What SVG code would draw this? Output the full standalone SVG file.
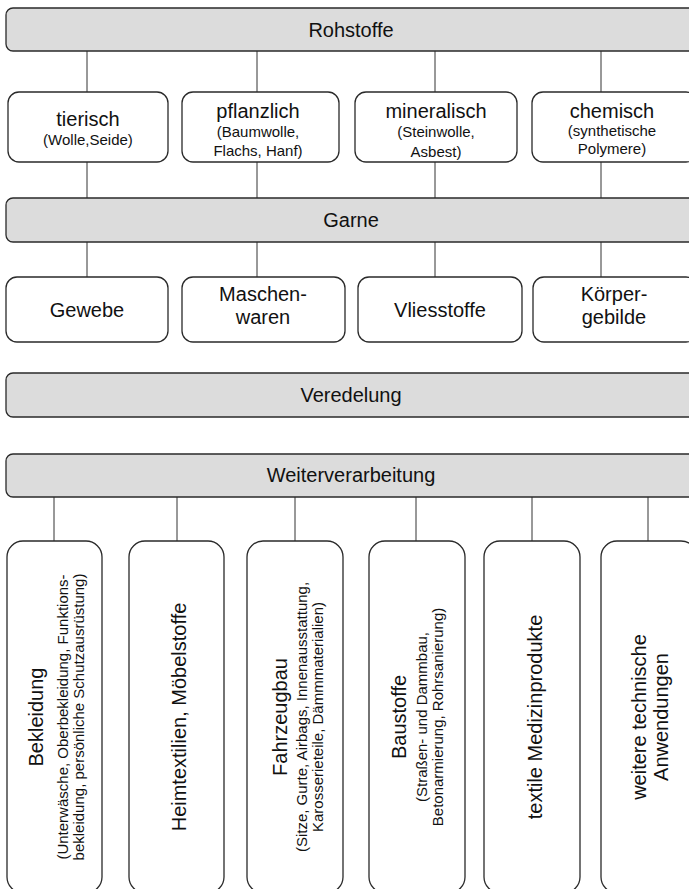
<svg xmlns="http://www.w3.org/2000/svg" width="689" height="889" viewBox="0 0 689 889">
<style>
.bar{fill:#dcdcdc;stroke:#2a2a2a;stroke-width:1.3}
.box{fill:#ffffff;stroke:#2a2a2a;stroke-width:1.3}
.t{font-family:"Liberation Sans",Arial,sans-serif;font-size:20px;fill:#111;text-anchor:middle}
.s{font-family:"Liberation Sans",Arial,sans-serif;font-size:15px;fill:#111;text-anchor:middle}
.c line{stroke:#333;stroke-width:1}
</style>
<rect width="689" height="889" fill="#ffffff"/>
<g class="c" id="connectors">
<line x1="87" y1="51" x2="87" y2="92"/><line x1="257" y1="51" x2="257" y2="92"/><line x1="435" y1="51" x2="435" y2="92"/><line x1="601" y1="51" x2="601" y2="92"/>
<line x1="87" y1="162" x2="87" y2="198"/><line x1="257" y1="162" x2="257" y2="198"/><line x1="435" y1="162" x2="435" y2="198"/><line x1="601" y1="162" x2="601" y2="198"/>
<line x1="87" y1="242" x2="87" y2="277"/><line x1="257" y1="242" x2="257" y2="277"/><line x1="435" y1="242" x2="435" y2="277"/><line x1="601" y1="242" x2="601" y2="277"/>
<line x1="54" y1="497" x2="54" y2="541"/><line x1="177" y1="497" x2="177" y2="541"/><line x1="295" y1="497" x2="295" y2="541"/><line x1="416" y1="497" x2="416" y2="541"/><line x1="532" y1="497" x2="532" y2="541"/><line x1="648" y1="497" x2="648" y2="541"/>
</g>
<g id="rohstoffe"><rect class="bar" x="6" y="8" width="691" height="43" rx="7"/><text class="t" x="351" y="37">Rohstoffe</text></g>
<g id="tierisch"><rect class="box" x="8" y="92" width="160" height="70" rx="11"/><text class="t" x="88" y="126">tierisch</text><text class="s" x="88" y="145">(Wolle,Seide)</text></g>
<g id="pflanzlich"><rect class="box" x="182" y="92" width="157" height="70" rx="11"/><text class="t" x="258" y="118">pflanzlich</text><text class="s" x="258" y="137">(Baumwolle,</text><text class="s" x="258" y="156">Flachs, Hanf)</text></g>
<g id="mineralisch"><rect class="box" x="355" y="92" width="162" height="70" rx="11"/><text class="t" x="436" y="118">mineralisch</text><text class="s" x="436" y="137">(Steinwolle,</text><text class="s" x="436" y="157">Asbest)</text></g>
<g id="chemisch"><rect class="box" x="532" y="92" width="165" height="70" rx="11"/><text class="t" x="612" y="118">chemisch</text><text class="s" x="612" y="136">(synthetische</text><text class="s" x="612" y="154">Polymere)</text></g>
<g id="garne"><rect class="bar" x="6" y="198" width="691" height="44" rx="7"/><text class="t" x="351" y="227">Garne</text></g>
<g id="gewebe"><rect class="box" x="6" y="277" width="162" height="65" rx="11"/><text class="t" x="87" y="317">Gewebe</text></g>
<g id="maschenwaren"><rect class="box" x="182" y="277" width="163" height="65" rx="11"/><text class="t" x="263" y="301">Maschen-</text><text class="t" x="263" y="324">waren</text></g>
<g id="vliesstoffe"><rect class="box" x="358" y="277" width="164" height="65" rx="11"/><text class="t" x="440" y="317">Vliesstoffe</text></g>
<g id="koerpergebilde"><rect class="box" x="533" y="277" width="164" height="65" rx="11"/><text class="t" x="614" y="301">Körper-</text><text class="t" x="614" y="324">gebilde</text></g>
<g id="veredelung"><rect class="bar" x="6" y="373" width="691" height="44" rx="7"/><text class="t" x="351" y="402">Veredelung</text></g>
<g id="weiterverarbeitung"><rect class="bar" x="6" y="454" width="691" height="43" rx="7"/><text class="t" x="351" y="482">Weiterverarbeitung</text></g>
<g id="bekleidung"><rect class="box" x="7" y="541" width="95" height="352" rx="16"/>
<text class="t" transform="translate(43,717) rotate(-90)">Bekleidung</text>
<text class="s" transform="translate(68,717) rotate(-90)">(Unterwäsche, Oberbekleidung, Funktions-</text>
<text class="s" transform="translate(84,717) rotate(-90)">bekleidung, persönliche Schutzausrüstung)</text></g>
<g id="heimtextilien"><rect class="box" x="129" y="541" width="95" height="352" rx="16"/>
<text class="t" transform="translate(186,717) rotate(-90)">Heimtextilien, Möbelstoffe</text></g>
<g id="fahrzeugbau"><rect class="box" x="247" y="541" width="96" height="352" rx="16"/>
<text class="t" transform="translate(287,717) rotate(-90)">Fahrzeugbau</text>
<text class="s" transform="translate(307,717) rotate(-90)">(Sitze, Gurte, Airbags, Innenausstattung,</text>
<text class="s" transform="translate(323,717) rotate(-90)">Karosserieteile, Dämmmaterialien)</text></g>
<g id="baustoffe"><rect class="box" x="369" y="541" width="96" height="352" rx="16"/>
<text class="t" transform="translate(406,717) rotate(-90)">Baustoffe</text>
<text class="s" transform="translate(427,717) rotate(-90)">(Straßen- und Dammbau,</text>
<text class="s" transform="translate(443,717) rotate(-90)">Betonarmierung, Rohrsanierung)</text></g>
<g id="medizin"><rect class="box" x="484" y="541" width="96" height="352" rx="16"/>
<text class="t" transform="translate(542,717) rotate(-90)">textile Medizinprodukte</text></g>
<g id="weitere"><rect class="box" x="601" y="541" width="96" height="352" rx="16"/>
<text class="t" transform="translate(646,717) rotate(-90)">weitere technische</text>
<text class="t" transform="translate(668,717) rotate(-90)">Anwendungen</text></g>
</svg>
